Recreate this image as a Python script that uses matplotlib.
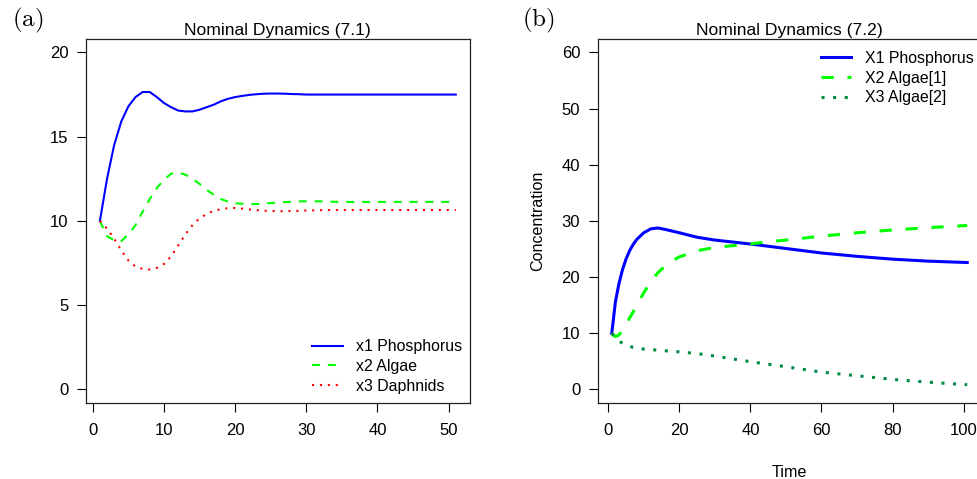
import numpy as np
import matplotlib
matplotlib.use("Agg")
import matplotlib.pyplot as plt

plt.rcParams['font.family'] = ['Liberation Sans', 'DejaVu Sans']
plt.rcParams['mathtext.fontset'] = 'cm'

# ---- panel (a): nominal dynamics (7.1), t = 1..51
t_a = np.arange(1, 52)
x1_phos = [10.0, 12.5, 14.5, 15.9, 16.8, 17.35, 17.65, 17.65, 17.35, 17.0,
           16.75, 16.55, 16.5, 16.5, 16.6, 16.75, 16.9, 17.1, 17.25, 17.35,
           17.42, 17.48, 17.52, 17.55, 17.56, 17.56, 17.55, 17.53, 17.52, 17.5,
           17.5, 17.5, 17.5, 17.5, 17.5, 17.5, 17.5, 17.5, 17.5, 17.5,
           17.5, 17.5, 17.5, 17.5, 17.5, 17.5, 17.5, 17.5, 17.5, 17.5, 17.5]
x2_algae = [10.0, 9.1, 8.85, 8.8, 9.2, 9.75, 10.55, 11.3, 11.95, 12.45,
            12.8, 12.88, 12.75, 12.5, 12.2, 11.85, 11.55, 11.3, 11.15, 11.05,
            11.02, 11.0, 11.0, 11.03, 11.06, 11.09, 11.12, 11.14, 11.16, 11.17,
            11.17, 11.16, 11.15, 11.14, 11.13, 11.13, 11.13, 11.13, 11.13, 11.13,
            11.13, 11.13, 11.13, 11.13, 11.13, 11.13, 11.13, 11.13, 11.13, 11.13, 11.13]
x3_daph = [10.0, 9.55, 8.95, 8.25, 7.65, 7.3, 7.15, 7.12, 7.22, 7.45,
           7.9, 8.55, 9.2, 9.75, 10.15, 10.42, 10.6, 10.7, 10.76, 10.77,
           10.73, 10.68, 10.64, 10.61, 10.59, 10.58, 10.58, 10.59, 10.6, 10.62,
           10.63, 10.64, 10.65, 10.65, 10.65, 10.65, 10.65, 10.65, 10.65, 10.65,
           10.65, 10.65, 10.65, 10.65, 10.65, 10.65, 10.65, 10.65, 10.65, 10.65, 10.65]
labels_a = ['x1 Phosphorus', 'x2 Algae', 'x3 Daphnids']

# ---- panel (b): nominal dynamics (7.2)
t_b = [1, 2, 3, 4, 5, 6, 7, 8, 10, 12, 14, 16, 18, 20, 25, 30, 35, 40, 45, 50,
       60, 70, 80, 90, 101]
X1_phos = [10, 15.5, 18.8, 21.3, 23.2, 24.7, 25.8, 26.7, 27.9, 28.6, 28.75, 28.5,
           28.2, 27.9, 27.1, 26.6, 26.25, 25.9, 25.5, 25.1, 24.3, 23.7, 23.2, 22.85, 22.6]
X2_algae1 = [10, 9.4, 9.7, 10.6, 11.6, 12.7, 13.8, 15.0, 17.2, 19.2, 20.8, 22.0,
             22.9, 23.6, 24.7, 25.3, 25.6, 25.9, 26.3, 26.6, 27.3, 27.9, 28.4, 28.8, 29.2]
X3_algae2 = [10, 9.2, 8.7, 8.2, 7.9, 7.7, 7.5, 7.4, 7.2, 7.1, 7.0, 6.9,
             6.8, 6.7, 6.4, 5.95, 5.45, 4.95, 4.5, 4.05, 3.1, 2.45, 1.8, 1.3, 0.85]
labels_b = ['X1 Phosphorus', 'X2 Algae[1]', 'X3 Algae[2]']

fs_tick = 12
fs_title = 12.6
fs_lab = 11.6
fs_leg = 11.4

fig = plt.figure(figsize=(9.78, 4.79), dpi=100)
ax1 = fig.add_axes([0.0876, 0.1587, 0.393, 0.760])
ax2 = fig.add_axes([0.611, 0.1587, 0.3925, 0.760])


def style(ax, xlim, ylim, xt, yt, title):
    ax.set_xlim(*xlim)
    ax.set_ylim(*ylim)
    ax.set_xticks(xt)
    ax.set_yticks(yt)
    ax.tick_params(direction='out', length=6.5, width=0.8, labelsize=fs_tick, pad=6)
    ax.tick_params(axis='x', pad=8)
    for s in ax.spines.values():
        s.set_linewidth(0.9)
        s.set_color('#222222')
    ax.set_title(title, fontsize=fs_title, pad=2.5)


leg_kw = dict(frameon=False, fontsize=fs_leg, handlelength=1.95, handletextpad=0.85,
              labelspacing=0.3, borderaxespad=0, borderpad=0)

# (a)
ax1.plot(t_a, x1_phos, color='#0000ff', lw=1.5, label=labels_a[0])
ax1.plot(t_a, x2_algae, color='#00ff00', lw=1.5, dashes=(3.8, 3.8), label=labels_a[1])
ax1.plot(t_a, x3_daph, color='#ff0000', lw=1.5, dashes=(1, 2.8), label=labels_a[2])
style(ax1, (-1, 53), (-0.8, 20.8), range(0, 51, 10), range(0, 21, 5),
      'Nominal Dynamics (7.1)')
ax1.legend(loc='upper left', bbox_to_anchor=(0.588, 0.175), **leg_kw)

# (b)
ax2.plot(t_b, X1_phos, color='#0000ff', lw=2.2, label=labels_b[0])
ax2.plot(t_b, X2_algae1, color='#00ff00', lw=2.2, dashes=(4, 4.5), label=labels_b[1])
ax2.plot(t_b, X3_algae2, color='#008b45', lw=2.2, dashes=(1, 2.8), label=labels_b[2])
style(ax2, (-3, 105), (-2.4, 62.4), range(0, 101, 20), range(0, 61, 10),
      'Nominal Dynamics (7.2)')
ax2.set_xlabel('Time', fontsize=fs_lab, labelpad=19)
ax2.set_ylabel('Concentration', fontsize=fs_lab, labelpad=12)
ax2.legend(loc='upper left', bbox_to_anchor=(0.581, 0.967), **leg_kw)

fig.text(0.012, 0.958, r'$\mathrm{(a)}$', fontsize=18, va='center', ha='left')
fig.text(0.534, 0.958, r'$\mathrm{(b)}$', fontsize=18, va='center', ha='left')

fig.savefig('out.png', dpi=100)
